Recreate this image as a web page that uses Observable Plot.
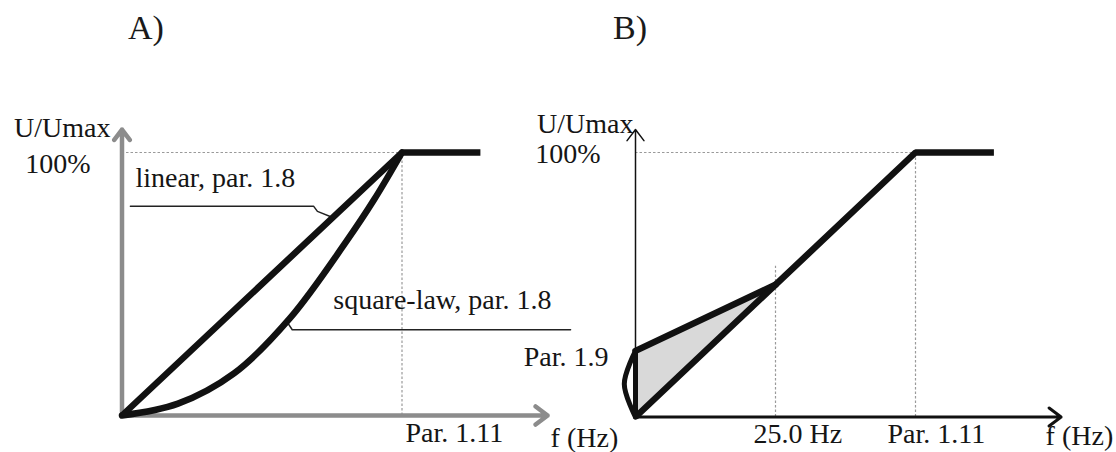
<!DOCTYPE html>
<html>
<head>
<meta charset="utf-8">
<script src="https://cdn.jsdelivr.net/npm/d3@7"></script>
<script src="https://cdn.jsdelivr.net/npm/@observablehq/plot@0.6"></script>
<style>
  html, body { margin: 0; padding: 0; background: #fff; }
  #chart { position: relative; width: 1116px; height: 452px; font-family: "Liberation Serif", "Times New Roman", serif; color: #1a1a1a; }
  .panel { position: absolute; top: 0; width: 558px; height: 452px; }
  .panel h2 { position: absolute; margin: 0; top: 11px; font-weight: normal; font-size: 34px; line-height: 1; }
  .panel .host { position: absolute; top: 60px; left: 0; }
  .panel svg { overflow: visible; background: transparent; }
</style>
</head>
<body>
<div id="chart">
  <div class="panel" id="panelA" style="left:0"><h2 style="left:128px">A)</h2><div class="host"></div></div>
  <div class="panel" id="panelB" style="left:558px"><h2 style="left:55px">B)</h2><div class="host"></div></div>
</div>
<script>
// U/f characteristics: frequency in Hz, voltage in % of Umax.
// Linear U/f curve (par. 1.8 = linear), flat above the field-weakening point.
const linearF = [0, 50, 64];
const linearU = [0, 100, 100];

// Square-law U/f curve (par. 1.8 = square-law).
const squareF = [0, 10, 20, 30, 40, 45, 50];
const squareU = [0, 4.5, 16, 37, 66, 82, 100];

// Voltage boost at zero frequency (par. 1.9), merging into the linear curve at 25 Hz.
const boostF = [0, 25];
const boostU = [25, 50];
const boostBaseU = [0, 50];
const boostLoopF = [0, -2.0, 0];
const boostLoopU = [25, 12.5, 0];
const boostLabel = "Par. 1.9";

// Axis extents (arrow tips).
const axisF = [0, 76];
const axisU = [0, 108.7];
const fullVoltage = [100];

// Tick values and labels.
const ticksA = [50];
const tickLabelsA = ["Par. 1.11"];
const ticksB = [25, 50];
const tickLabelsB = ["25.0 Hz", "Par. 1.11"];
const cutoffB = [57]; // height of the 25 Hz guide
const yLabels = ["U/Umax", "100%"];
const xTitle = "f (Hz)";

// Callouts of panel A: label and leader polyline.
const linearNoteText = "linear, par. 1.8";
const linearLeaderF = [1.5, 34.2, 34.9, 37.4];
const linearLeaderU = [79.6, 79.6, 77.6, 75.5];
const squareNoteText = "square-law, par. 1.8";
const squareLeaderF = [80.1, 30.4, 29.5];
const squareLeaderU = [32.6, 32.6, 35.5];

const pts = (xs, ys) => xs.map((x, i) => ({x, y: ys[i]}));
const font = "Liberation Serif, Times New Roman, serif";
const textStyle = {fill: "#151515", fontSize: 28, fontFamily: font};
const guide = {stroke: "#9a9a9a", strokeWidth: 1.2, strokeDasharray: "2.5,2"};
const curve = {stroke: "#111", strokeWidth: 6.5};
const seg = {x1: "x1", y1: "y1", x2: "x2", y2: "y2"};

function panel(host, x0, y0, marks) {
  const svg = Plot.plot({
    width: 558,
    height: 392,
    x: {domain: [0, 50], range: [x0, x0 + 280], axis: null},
    y: {domain: [0, 100], range: [y0, 92], axis: null},
    style: {overflow: "visible", background: "transparent", fontFamily: font},
    marks
  });
  document.querySelector(host).append(svg);
}

const xAxisLine = [{x1: axisF[0], y1: 0, x2: axisF[1], y2: 0}];
const yAxisLine = [{x1: 0, y1: axisU[0], x2: 0, y2: axisU[1]}];

// Panel A: linear vs square-law characteristic.
const axisColorA = "#8c8c8c";
panel("#panelA .host", 121.5, 355, [
  Plot.ruleY(fullVoltage, {x1: axisF[0], x2: ticksA[0], ...guide}),
  Plot.ruleX(ticksA, {y1: 0, y2: fullVoltage[0], ...guide}),
  Plot.arrow(xAxisLine, {...seg, stroke: axisColorA, strokeWidth: 4.5, headLength: 5, headAngle: 74}),
  Plot.arrow(yAxisLine, {...seg, stroke: axisColorA, strokeWidth: 4.5, headLength: 4.3, headAngle: 74}),
  Plot.line(pts(linearLeaderF, linearLeaderU), {x: "x", y: "y", stroke: "#222", strokeWidth: 1.5}),
  Plot.line(pts(squareLeaderF, squareLeaderU), {x: "x", y: "y", stroke: "#222", strokeWidth: 1.5}),
  Plot.line(pts(squareF, squareU), {x: "x", y: "y", curve: "catmull-rom", ...curve}),
  Plot.line(pts(linearF, linearU), {x: "x", y: "y", ...curve, strokeLinejoin: "miter", strokeLinecap: "butt"}),
  Plot.text([linearNoteText], {x: linearLeaderF[0], y: linearLeaderU[0], text: d => d, textAnchor: "start", dx: 5, dy: -27.7, ...textStyle}),
  Plot.text([squareNoteText], {x: squareLeaderF[1], y: squareLeaderU[1], text: d => d, textAnchor: "start", dx: 41, dy: -30, ...textStyle}),
  Plot.text([yLabels[0]], {x: 0, y: fullVoltage[0], text: d => d, textAnchor: "end", dx: -11.5, dy: -24, ...textStyle}),
  Plot.text([yLabels[1]], {x: 0, y: fullVoltage[0], text: d => d, textAnchor: "end", dx: -31.5, dy: 12, ...textStyle}),
  Plot.text(tickLabelsA, {x: (d, i) => ticksA[i], y: 0, text: d => d, textAnchor: "start", dx: 3.5, dy: 18, ...textStyle}),
  Plot.text([xTitle], {x: axisF[1], y: 0, text: d => d, textAnchor: "start", dx: 3, dy: 22.5, ...textStyle})
]);

// Panel B: linear characteristic with zero-frequency voltage boost.
panel("#panelB .host", 77, 356.5, [
  Plot.areaY(boostF.map((x, i) => ({x, lo: boostBaseU[i], hi: boostU[i]})), {x: "x", y1: "lo", y2: "hi", fill: "#d9d9d9"}),
  Plot.ruleY(fullVoltage, {x1: axisF[0], x2: ticksB[1], ...guide}),
  Plot.ruleX([ticksB[0]], {y1: 0, y2: cutoffB[0], ...guide}),
  Plot.ruleX([ticksB[1]], {y1: 0, y2: fullVoltage[0], ...guide}),
  Plot.arrow(xAxisLine, {...seg, stroke: "#111", strokeWidth: 3, headLength: 7.5, headAngle: 74}),
  Plot.arrow(yAxisLine, {...seg, stroke: "#111", strokeWidth: 1.5, headLength: 14, headAngle: 74}),
  Plot.line(pts(boostLoopF, boostLoopU), {x: "x", y: "y", curve: "catmull-rom", stroke: "#111", strokeWidth: 5}),
  Plot.line(pts([0, 0], [boostLoopU[2], boostLoopU[0]]), {x: "x", y: "y", stroke: "#111", strokeWidth: 5}),
  Plot.line(pts(boostF, boostU), {x: "x", y: "y", ...curve}),
  Plot.line(pts(linearF, linearU), {x: "x", y: "y", ...curve, strokeLinejoin: "miter", strokeLinecap: "butt"}),
  Plot.text([yLabels[0]], {x: 0, y: fullVoltage[0], text: d => d, textAnchor: "end", dx: -2, dy: -28, ...textStyle}),
  Plot.text([yLabels[1]], {x: 0, y: fullVoltage[0], text: d => d, textAnchor: "end", dx: -35, dy: 2, ...textStyle}),
  Plot.text([boostLabel], {x: 0, y: boostU[0], text: d => d, textAnchor: "end", dx: -27, dy: 6, ...textStyle}),
  Plot.text([tickLabelsB[0]], {x: ticksB[0], y: 0, text: d => d, textAnchor: "start", dx: -22, dy: 17.5, ...textStyle}),
  Plot.text([tickLabelsB[1]], {x: ticksB[1], y: 0, text: d => d, textAnchor: "start", dx: -28, dy: 17.5, ...textStyle}),
  Plot.text([xTitle], {x: axisF[1], y: 0, text: d => d, textAnchor: "start", dx: -15.5, dy: 19.5, ...textStyle})
]);
</script>
</body>
</html>
